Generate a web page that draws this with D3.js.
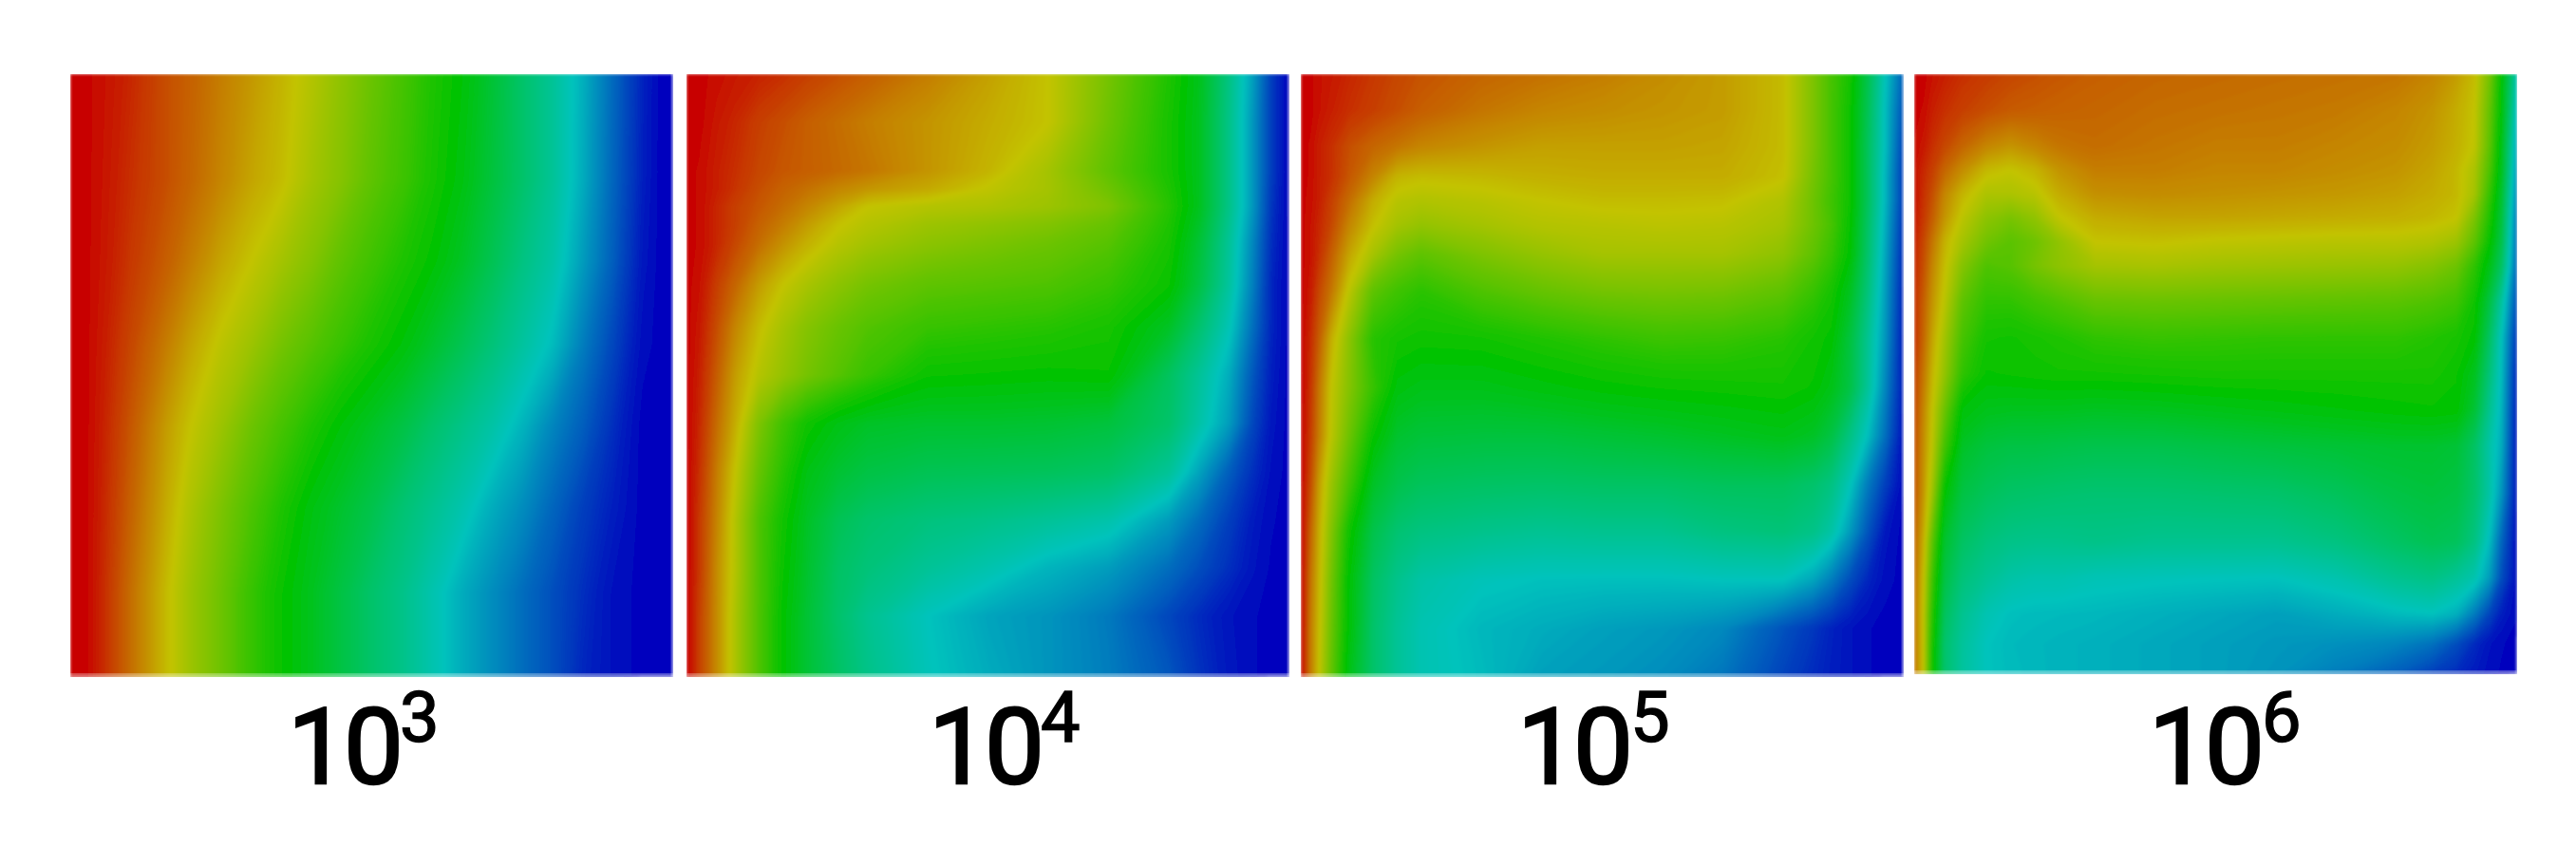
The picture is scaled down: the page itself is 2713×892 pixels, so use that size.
<!DOCTYPE html>
<html><head><meta charset="utf-8">
<script src="https://cdn.jsdelivr.net/npm/d3@7"></script>
<style>html,body{margin:0;background:#fff}svg{display:block}</style></head>
<body><div id="chart"></div>
<script>
const exponents = ["3","4","5","6"];

const cols3 = [0,.025,.1,.16,.2,.25,.3,.35,.4,.45,.5,.55,.6,.65,.7,.75,.8,.85,.9,.95,.98,1];
const rows3 = [0,.175,.31,.45,.585,.72,.86,1];
const temp3 = [
[100,100,95,90,87.6,84,80.6,77,73,68.3,63.6,59,54,49.3,43,36,30,22.5,13.5,4.5,0,0],
[100,100,94,90,87,83,79,76,71,67,62,58,53,48,42,36,30,22,13,4,0,0],
[100,100,93,88,84,79,75,71,67,62,58,54,50,45,39,33,28,20,12,3,0,0],
[100,100,91,84,79,74,70,65,61,57,53,49,44,39,34,29,24,16,9,1.5,0,0],
[100,100,89,80,75,70,64,59,54,49,45,41,36,32,28,23,17,12,6,0,0,0],
[100,100,87.6,78,72,66,60,54,48,44,40,35,31,27,22,18,13,8,4,0,0,0],
[100,100,86,76,70,64,57,51,46,41,36,32,27,22,18,14,10,6,2,0,0,0],
[100,100,86,76,70,64,57,51,46,41,36,32,27,22,18,14,10,5,2,0,0,0]];

const cols4 = [0,.02,.05,.08,.12,.16,.2,.25,.3,.4,.5,.6,.7,.8,.85,.9,.94,.97,1];
const rows4 = [0,.08,.16,.19,.22,.25,.28,.35,.42,.5,.58,.66,.74,.82,.9,1];
const temp4 = [
[100,100,98.5,97,95.5,94,92,90,88,84,79.5,75,65,54,46.4,32.7,20,8,0],
[100,100,97,95,92,90,88,86,84,81,78,75,64,53,46,32,19,8,0],
[100,99,96,94,91,89,88,86.5,85,81,77,71,62,53,46,32,19,8,0],
[100,99,96,93.5,90,87.5,85.5,83,81,78.5,74.5,71,64,54,46,32,19,7.5,0],
[100,99,95,92,89,86,83,79,75,73,72,70,66,55,46,32,19,7,0],
[100,99,95,92,87.5,84,80,75.5,73,70,68.5,66.5,63,54,44.5,31,18,6.5,0],
[100,99,95,91,86,81.5,77.5,73.5,71,68,66,64,61,53,43,30,17,6,0],
[100,98,92,87,80,75,71.5,68,65,62,61,60,57,51,41,29,16,5,0],
[100,97,90,83,76,71,67,63.5,60.5,57,56,55,53,45,35.5,26,14,5,0],
[100,96,88,80,73,69,65,61,57,51,50.5,50,50.5,37.5,30,22,11,4,0],
[100,95,86,78,66,58,52,47.5,45,44,44,43.5,42,36,28,20,9,3,0],
[100,94,84,75,63,55,47.5,43.5,41,39,38.5,38,36.5,30,21,12,6,2,0],
[100,93,83,73,60,52,45,39,36,33.5,32,30,27.5,20,14,8,3.5,1,0],
[100,93,82,73,60,51,44,37,34,30,27,23,20,14,10,6,2.5,.5,0],
[100,92,82,72,60,50,43,36,31,25,21,19,15.5,9,5.5,2.5,1,0,0],
[100,92,82,72,60,50,43,37,32,25.5,22,19,16,11,6.5,3,1,0,0]];

const cols5 = [0,.015,.03,.05,.08,.12,.16,.2,.3,.4,.5,.6,.7,.8,.85,.88,.91,.94,.97,1];
const rows5 = [0,.06,.12,.17,.21,.25,.3,.36,.44,.52,.6,.68,.76,.84,.92,1];
const temp5 = [
[100,100,98,97,95,93,91,89.5,87,85.5,84,82,80,76,66,59,53,40,25,12],
[100,100,98,96,94,92,90,88,85,83,82,81,80,76,66,59,52,39,24,10],
[100,99,96,94,90,87,85,83,81,79.5,79.5,79.5,79,76,66,59,52,38,24,8],
[100,99,96,94,89,83,77,76,76.5,77.5,78,78,78,75.5,65,59,52,38,23,7],
[100,98.5,96,92,86,78,73.5,72.5,73.5,75,76,76,75.7,72.5,64,58,52,38,23,7],
[100,98,95,91,83,75.5,71,69,71,73,73.5,74,73.5,71,64,59,51,37,22,6],
[100,98,94,88,79,71,65,62,66,69,71,71,71,68,62,57,50,36,21,5],
[100,97,91,85,74,62,58,55.5,60,63,65,65.5,65,62,57,53,46,34,20,4],
[100,95,88,78,68,55,52.5,51.5,52,54,56,57.5,57,55,52,50,42,31,19,3],
[100,94,85,75,67,57,48.5,47,47,48.5,50,51,51.5,52,50.5,47,41,30,17,3],
[100,93,84,74,64,51,44,42.5,42,42,43,44,45.5,47,45,41,33,24.5,14,2],
[100,91,80,70,59,45,40,38,37,36.5,37,37,38,38,36,33,26,16,8,1],
[100,88,78,67,52,40,35,33,31.5,30.5,31,31,33,34,32,28,20,11,3,0],
[100,86,77,65,49.5,37,31.5,28,25.5,24.7,24.5,24.5,25,25,21,16,10,5,1.5,0],
[100,85,76,64,49,36,30,26.5,23.5,22,20.5,19.5,17.5,10.5,7,4.5,2.5,1,0,0],
[100,85,75,63,47,36,30,26.5,24,20.5,19.5,18,15,8.5,5.5,4,2.5,1,0,0]];

const cols6 = [0,.015,.03,.05,.08,.12,.16,.2,.24,.3,.4,.5,.6,.7,.8,.86,.9,.93,.955,.975,1];
const rows6 = [0,.06,.12,.16,.2,.24,.28,.32,.38,.44,.5,.56,.62,.7,.78,.84,.9,.95,1];
const temp6 = [
[100,100,98,96,94,92.5,91,90,89,88,87,86.5,86,85.5,85,83,80,76,65,50,27],
[100,99,96,94,92,90,88.5,88,87.5,87,86,85.5,85,84.5,83,81,78,75,63,49,24],
[99,97,94,91,87,83,81,83,85,86,85,84,84,83,82,80,77.5,74.5,62,47,21],
[98,95,92,87,82,76.5,75,77,81,84,84,83,83,82,81,79,76.5,72,60,46,19],
[98,94,90,83,77,72,72,73.5,78,81.5,82,81.5,81,80.5,79.5,78,76.5,71,57,44,17],
[97,93,88,81,74,68,65.5,68.5,74.5,78,79,79,78.5,78,77.5,76.5,75,66,54,42,15],
[96,91,85,77.5,71,64.5,61.5,64,68.5,75,75.5,74.5,74,73.5,73.5,72.5,70,62,51,40,14],
[95,90,83,76,67,60,61,65,68,71,71.5,70.5,70,69.5,69,67,64,56,47,37,13],
[94,88,81,74,62,56,56,58,60,63,63.5,63,62.5,62,61.5,60,58,52,41,29,10],
[94,87,79,71,59,52.5,52,53,54,56,57,56.5,56,56,56,54.5,53,50,37,25,7],
[92,85,77,69,56,50.5,51,51.5,52,52,52.5,53,53,53,53,53,51,46,34,24,5],
[91,83,75,64,49,46.5,46,46,46,45.5,46,47,48,49,50,50.5,50,43,31,23,4],
[90,82,74,59,45,42,41,41,40.5,40,40,41,42,43,44,44,43,37,28,22,3],
[89,81,70,50,41,38,36.5,36,35.5,35,35,35.5,36,38,41,42,41,36,28,19,3],
[87,78,62,44,37,33.5,32,31.5,31.5,32,31,31,31,33,37,39,38,33,24,13,2],
[86,76,58,41,34,30.5,28,27,27,26,25.5,25.2,25,27,31,32.5,30,27,20,10,2],
[85,75,55,38,31,26.5,24.5,24,23.8,23.5,22.5,21.5,20.5,22,24,24.8,22.5,16,9,4,1],
[85,75,53,36,29.5,25,23.8,23.4,23,22.5,21.5,20.5,19.5,18.5,17,14.5,10,5.5,2.5,1,0],
[85,75,52,36,29,25,24,23.5,23,22.5,21.5,20.5,19,16,12,8,5.5,3.5,1.5,.5,0]];

const panelCols = [cols3,cols4,cols5,cols6];
const panelRows = [rows3,rows4,rows5,rows6];
const panelTemps = [temp3,temp4,temp5,temp6];

const W = 2713, H = 892;
const lefts = [74,723.4,1370,2016], widths = [635,634.6,635,634.5], panelTop = 78, heights = [634.5,634.5,634.5,631.5];
const labelX = [303,978,1598,2263], labelY = 825, supX = [421,1096,1717,2382], supY = 781;
const fontStack = "Roboto,'Liberation Sans',Arial,sans-serif";

const color = d3.scaleLinear().domain([0,25,50,75,100])
  .range(["#0000be","#00c3bc","#00c300","#c3c300","#c80000"]);
const levels = d3.range(.25,100,.5);

const svg = d3.select("#chart").append("svg").attr("width",W).attr("height",H).attr("viewBox",[0,0,W,H]);
const defs = svg.append("defs");
defs.append("filter").attr("id","soft").attr("x","0%").attr("y","0%").attr("width","100%").attr("height","100%")
  .append("feGaussianBlur").attr("stdDeviation",1.6);

panelTemps.forEach((grid,p)=>{
  const cols = panelCols[p], rows = panelRows[p];
  const n = cols.length, m = rows.length;
  const x = d3.scaleLinear().domain([0,1]).range([lefts[p],lefts[p]+widths[p]]);
  const y = d3.scaleLinear().domain([0,1]).range([panelTop,panelTop+heights[p]]);
  const ix = d3.scaleLinear().domain(cols.map((_,i)=>i+.5)).range(cols.map(c=>x(c))).clamp(true);
  const iy = d3.scaleLinear().domain(rows.map((_,i)=>i+.5)).range(rows.map(r=>y(r))).clamp(true);
  const path = d3.geoPath(d3.geoTransform({point(a,b){this.stream.point(ix(a),iy(b));}}));
  const contours = d3.contours().size([n,m]).thresholds(levels)(grid.flat());
  const g = svg.append("g").attr("class","panel").attr("filter","url(#soft)");
  g.append("rect").attr("x",x(0)).attr("y",y(0)).attr("width",widths[p]).attr("height",heights[p]).attr("fill",color(0));
  g.selectAll("path").data(contours).join("path")
    .attr("d",path).attr("fill",d=>color(d.value+.25));
  svg.append("rect").attr("x",x(0)).attr("y",y(1)-3.5).attr("width",widths[p]).attr("height",3.5)
    .attr("fill","#fff").attr("opacity",.3);
  if (p<3) svg.append("rect").attr("x",x(1)-2.5).attr("y",y(0)).attr("width",2.5).attr("height",heights[p])
    .attr("fill","#fff").attr("opacity",.25);
  svg.append("text").attr("x",labelX[p]).attr("y",labelY)
    .attr("font-family",fontStack).attr("font-size",112).attr("letter-spacing",-4).attr("fill","#000")
    .attr("stroke","#000").attr("stroke-width",2.5).text("10");
  svg.append("text").attr("x",supX[p]).attr("y",supY)
    .attr("font-family",fontStack).attr("font-size",74).attr("fill","#000")
    .attr("stroke","#000").attr("stroke-width",1.5).text(exponents[p]);
});
</script></body></html>
